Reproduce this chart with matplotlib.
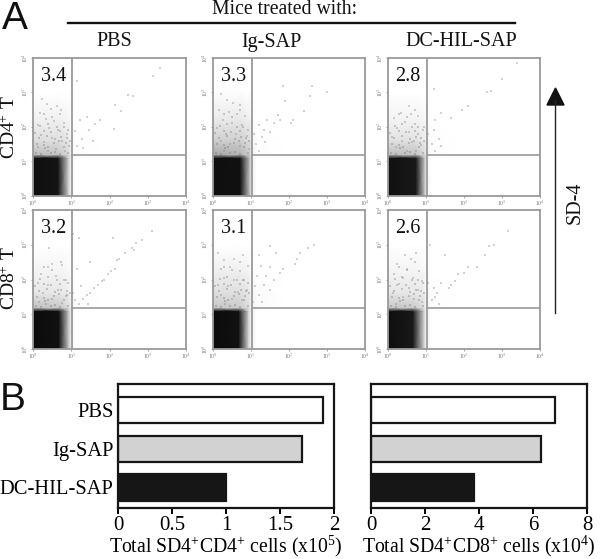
import matplotlib
matplotlib.use("Agg")
import matplotlib.pyplot as plt
import numpy as np

plt.rcParams['font.family'] = ['Liberation Serif', 'DejaVu Serif']
plt.rcParams['mathtext.fontset'] = 'custom'
plt.rcParams['mathtext.rm'] = 'Liberation Serif'
plt.rcParams['mathtext.default'] = 'rm'

# ---------- data ----------
treatments = ['PBS', 'Ig-SAP', 'DC-HIL-SAP']
row_labels = ['CD4$^{+}$ T', 'CD8$^{+}$ T']
percent_cd4 = ['3.4', '3.3', '2.8']
percent_cd8 = ['3.2', '3.1', '2.6']
total_cd4 = [1.9, 1.7, 1.0]
total_cd8 = [6.8, 6.3, 3.8]
bar_colors = ['white', '#d2d2d2', '#161616']
ticks_cd4 = [0, 0.5, 1, 1.5, 2]
ticks_cd8 = [0, 2, 4, 6, 8]
ticklabels_cd4 = ['0', '0.5', '1', '1.5', '2']
ticklabels_cd8 = ['0', '2', '4', '6', '8']
decades = [0, 1, 2, 3, 4]

# density nodes (log decades); darkness 0-1
y_nodes = [0, 1.09, 1.19, 1.6, 2.2, 3.0, 3.4]
x_nodes_cd4 = [[0, .66, .94, 1.0, 1.1, 1.7], [0, .72, .98, 1.02, 1.15, 1.8], [0, .74, .98, 1.02, 1.15, 1.8]]
x_nodes_cd8 = [[0, .68, .94, 1.0, 1.1, 1.7], [0, .68, .94, 1.0, 1.15, 1.8], [0, .66, .95, 1.0, 1.15, 1.8]]
dens_cd4_pbs = [[.94, .92, .16, .05, 0, 0], [.94, .92, .16, .05, 0, 0], [.26, .24, .14, .05, .01, 0],
                [.13, .13, .10, .03, .01, 0], [.06, .06, .04, .01, 0, 0], [0, 0, 0, 0, 0, 0], [0, 0, 0, 0, 0, 0]]
dens_cd4_ig = [[.94, .93, .20, .06, 0, 0], [.94, .93, .20, .06, 0, 0], [.34, .30, .18, .06, .01, 0],
               [.19, .19, .13, .04, .01, 0], [.08, .09, .06, .02, 0, 0], [.01, .01, 0, 0, 0, 0], [0, 0, 0, 0, 0, 0]]
dens_cd4_dc = [[.93, .90, .18, .05, 0, 0], [.93, .90, .18, .05, 0, 0], [.26, .24, .14, .05, .01, 0],
               [.12, .12, .08, .03, .01, 0], [.05, .05, .03, .01, 0, 0], [0, 0, 0, 0, 0, 0], [0, 0, 0, 0, 0, 0]]
dens_cd8_pbs = [[.95, .93, .20, .06, 0, 0], [.95, .93, .20, .06, 0, 0], [.24, .22, .14, .05, .01, 0],
                [.10, .10, .07, .03, .01, 0], [.05, .05, .03, .01, 0, 0], [0, 0, 0, 0, 0, 0], [0, 0, 0, 0, 0, 0]]
dens_cd8_ig = [[.95, .93, .16, .06, 0, 0], [.95, .93, .16, .06, 0, 0], [.22, .21, .14, .05, .02, 0],
               [.13, .13, .10, .05, .02, 0], [.07, .07, .05, .02, 0, 0], [0, 0, 0, 0, 0, 0], [0, 0, 0, 0, 0, 0]]
dens_cd8_dc = [[.94, .90, .18, .06, 0, 0], [.94, .90, .18, .06, 0, 0], [.22, .21, .13, .05, .01, 0],
               [.10, .10, .08, .03, .01, 0], [.05, .05, .04, .01, 0, 0], [0, 0, 0, 0, 0, 0], [0, 0, 0, 0, 0, 0]]

# individual events: (log x, log y)
pts_cd4_pbs = [(3.32,3.71),(3.14,3.47),(2.62,2.89),(2.49,2.91),(2.14,2.62),(2.31,2.45),(2.12,1.94),(1.15,3.32),(1.47,1.9),
 (1.41,2.28),(1.27,1.63),(1.57,1.58),(1.22,2.2),(1.09,1.87),(1.14,1.43),(1.31,1.38),(1.61,2.07),(1.75,2.2),
 (.24,2.8),(.36,2.67),(.48,2.52),(.62,2.61),(.71,2.36),(.18,2.4),(.33,2.22),(.55,2.18),(.82,2.12),(.12,2.05),
 (.42,1.97),(.66,1.9),(.9,1.78),(.22,1.76),(.5,1.66),(.76,1.58),(.3,1.55),(.95,1.44),(.14,1.42),(.6,1.36),(.84,1.3),(.4,1.3)]
pts_cd4_ig = [(3.0,3.0),(2.6,3.2),(2.55,2.9),(1.85,3.2),(1.9,2.75),(2.4,2.45),(2.1,2.2),(2.05,2.1),(1.75,2.2),(1.7,2.35),
 (1.6,2.1),(1.42,2.2),(1.35,1.9),(1.5,1.85),(1.3,1.7),(1.2,2.05),(1.12,1.5),(1.22,1.3),(1.08,1.8),(1.38,1.55),
 (.22,2.95),(.36,2.78),(.52,2.7),(.7,2.62),(.15,2.5),(.42,2.42),(.62,2.38),(.85,2.3),(.25,2.2),(.5,2.1),
 (.75,2.05),(.1,1.95),(.35,1.8),(.6,1.8),(.9,1.72),(.2,1.6),(.45,1.5),(.7,1.45),(.95,1.35),(.3,1.3)]
pts_cd4_dc = [(3.4,3.85),(3.0,3.4),(2.7,3.05),(2.6,3.0),(2.1,2.6),(1.95,2.5),(1.65,2.25),(1.4,2.4),(1.2,3.1),(1.25,2.2),
 (1.2,1.9),(1.35,1.65),(1.15,1.5),(1.4,1.45),(1.05,1.8),(1.25,1.3),
 (.55,2.6),(.35,2.4),(.6,2.38),(.8,2.3),(.15,2.25),(.45,2.15),(.72,2.08),(.95,2.0),(.25,1.95),(.55,1.85),
 (.8,1.78),(.1,1.7),(.38,1.6),(.62,1.55),(.88,1.48),(.2,1.4),(.5,1.3),(.75,1.3)]
pts_cd8_pbs = [(3.1,3.4),(2.85,3.15),(2.7,3.05),(2.6,2.9),(2.65,2.85),(2.4,2.75),(2.25,2.6),(2.2,2.55),(2.15,2.3),(2.05,2.25),
 (1.95,2.15),(1.85,2.0),(1.8,1.95),(1.7,1.85),(1.6,1.75),(1.5,1.6),(1.4,1.55),(1.3,1.45),(1.2,1.3),(1.1,1.4),
 (1.05,1.6),(1.25,1.8),(1.5,2.5),(1.2,3.2),(1.05,3.3),(2.1,3.2),(1.15,2.3),(1.45,1.3),
 (.42,2.92),(.38,2.35),(.5,2.45),(.75,2.42),(.22,2.15),(.6,2.1),(.85,2.0),(.12,1.9),(.4,1.85),(.65,1.7),
 (.25,1.6),(.9,1.55),(.5,1.45),(.15,1.35),(.75,1.32),(.35,1.3)]
pts_cd8_ig = [(2.65,3.0),(2.5,2.9),(2.3,2.75),(2.2,2.6),(2.15,2.45),(1.5,2.95),(1.65,2.75),(1.2,2.7),(1.25,2.4),(1.5,2.35),
 (1.75,2.2),(1.85,2.3),(1.4,2.1),(1.15,2.1),(1.35,1.85),(1.5,1.7),(1.2,1.55),(1.1,1.8),(1.3,1.35),(1.6,2.0),(1.05,1.35),
 (.12,2.75),(.3,2.55),(.55,2.6),(.8,2.7),(.2,2.3),(.45,2.35),(.7,2.25),(.92,2.4),(.3,2.05),(.55,2.0),
 (.82,2.0),(.12,1.85),(.4,1.8),(.65,1.65),(.9,1.7),(.22,1.55),(.5,1.45),(.75,1.4),(.32,1.3)]
pts_cd8_dc = [(3.15,3.4),(2.8,3.0),(2.65,2.95),(2.55,2.7),(2.35,2.35),(2.1,2.35),(2.0,2.2),(1.85,2.15),(1.75,1.95),(1.65,1.85),
 (1.6,1.75),(1.5,2.7),(1.1,3.0),(1.3,1.6),(1.25,1.5),(1.2,1.75),(1.15,1.4),(1.35,1.3),(1.05,1.9),(1.4,1.9),
 (.45,2.7),(.6,2.6),(.75,2.75),(.25,2.45),(.5,2.3),(.82,2.25),(.15,2.15),(.4,2.05),(.65,2.05),(.9,1.95),
 (.25,1.85),(.55,1.75),(.8,1.7),(.12,1.6),(.4,1.5),(.68,1.45),(.9,1.35),(.22,1.3)]
# speckle seen in the left-hand column of every plot
pts_left_speckle = [(.08,1.25),(.2,1.22),(.32,1.38),(.46,1.24),(.58,1.28),(.7,1.22),(.82,1.4),(.92,1.25),(.1,1.5),(.28,1.46),
 (.4,1.42),(.55,1.52),(.68,1.58),(.85,1.52),(.96,1.6),(.16,1.66),(.36,1.72),(.58,1.64),(.74,1.7),(.88,1.66),
 (.06,1.82),(.3,1.88),(.48,1.84),(.7,1.88),(.92,1.9),(.18,2.02),(.38,2.08),(.62,2.0),(.8,1.98),(.5,2.28),(.28,2.36),(.72,2.5)]

dens = [[dens_cd4_pbs, dens_cd4_ig, dens_cd4_dc], [dens_cd8_pbs, dens_cd8_ig, dens_cd8_dc]]
pts = [[pts_cd4_pbs, pts_cd4_ig, pts_cd4_dc], [pts_cd8_pbs, pts_cd8_ig, pts_cd8_dc]]
xnodes = [x_nodes_cd4, x_nodes_cd8]
percents = [percent_cd4, percent_cd8]
gate_x, gate_y = 1.02, 1.18

# ---------- layout (pixels) ----------
W, H = 600, 559
fig = plt.figure(figsize=(W / 100, H / 100), dpi=100)
def ax_px(l, t, r, b):
    return fig.add_axes([l / W, 1 - b / H, (r - l) / W, (b - t) / H])

panel_lr = [(33, 186), (213, 365), (388, 540)]
panel_tb = [(58, 195.5), (210, 349)]
GR = '#9a9a9a'

for i, (t, b) in enumerate(panel_tb):
    for j, (l, r) in enumerate(panel_lr):
        ax = ax_px(l, t, r, b)
        ax.pcolormesh(xnodes[i][j], y_nodes, np.array(dens[i][j]), shading='gouraud',
                      cmap='gray_r', vmin=0, vmax=1, rasterized=True)
        p = np.array(pts[i][j])
        ax.scatter(p[:, 0], p[:, 1], s=3, marker='s', color='#8a8a8a', alpha=.38, linewidths=0)
        q = np.array(pts_left_speckle)
        ax.scatter(q[:, 0], q[:, 1], s=3, marker='s', color='#6a6a6a', alpha=.32, linewidths=0)
        ax.axvline(gate_x, color=GR, lw=1.3)
        ax.plot([gate_x, 4], [gate_y, gate_y], color=GR, lw=1.2)
        ax.set_xlim(0, 4)
        ax.set_ylim(0, 4)
        ax.set_xticks(decades)
        ax.set_yticks(decades)
        ax.set_xticklabels(['10$^{%d}$' % d for d in decades], fontsize=4, color='#777777')
        ax.set_yticklabels(['10$^{%d}$' % d for d in decades], fontsize=4, color='#777777', rotation=90, va='center')
        ax.tick_params(length=1.5, width=.6, color=GR, pad=.8)
        for s in ax.spines.values():
            s.set_color(GR)
            s.set_linewidth(1.3)
        ax.text(.05, .865, percents[i][j], transform=ax.transAxes, fontsize=14.5, color='#111111', va='center')

# bar charts
bar_axes = [(118, 334), (371, 587)]
bar_data = [(total_cd4, ticks_cd4, ticklabels_cd4, 2, 'Total SD4$^{+}$CD4$^{+}$ cells (x10$^{5}$)'),
            (total_cd8, ticks_cd8, ticklabels_cd8, 8, 'Total SD4$^{+}$CD8$^{+}$ cells (x10$^{4}$)')]
for k, ((l, r), (vals, tk, tl, xm, lab)) in enumerate(zip(bar_axes, bar_data)):
    ax = ax_px(l, 384, r, 508)
    ax.barh(range(3), vals, height=.68, color=bar_colors, edgecolor='#161616', linewidth=1.6)
    ax.set_xlim(0, xm)
    ax.set_ylim(2.53, -.67)
    ax.set_xticks(tk)
    ax.set_xticklabels(tl, fontsize=15)
    ax.set_yticks(range(3))
    ax.set_yticklabels(treatments if k == 0 else [], fontsize=14.8)
    ax.tick_params(axis='y', length=0, pad=3)
    ax.tick_params(axis='x', length=4, width=1.4, pad=2)
    ax.set_xlabel(lab, fontsize=14.2, labelpad=-1)
    for s in ax.spines.values():
        s.set_linewidth(1.6)
        s.set_color('#161616')

# annotations layer
ov = fig.add_axes([0, 0, 1, 1])
ov.set_xlim(0, W)
ov.set_ylim(H, 0)
ov.axis('off')
ov.patch.set_alpha(0)
ov.text(2, 19, 'A', family='Liberation Sans', fontsize=28, va='center', color='#111111')
ov.text(0, 400, 'B', family='Liberation Sans', fontsize=28, va='center', color='#111111')
ov.text(285, 9, 'Mice treated with:', fontsize=14.2, ha='center', va='center', color='#111111')
ov.plot([68, 515], [23, 23], color='#111111', lw=1.7)
for x, name in zip([114, 271, 461], treatments):
    ov.text(x, 42, name, fontsize=14.5, ha='center', va='center', color='#111111')
for y, name in zip([127, 278], row_labels):
    ov.text(10, y, name, fontsize=14, rotation=90, ha='center', va='center', color='#111111')
ov.plot([555, 555], [100, 313], color='#222222', lw=1)
ov.fill([547, 564, 555.5], [105, 105, 88], color='#111111')
ov.text(575, 203, 'SD-4', fontsize=14.5, rotation=90, ha='center', va='center', color='#111111')

fig.savefig('out.png', dpi=100)
